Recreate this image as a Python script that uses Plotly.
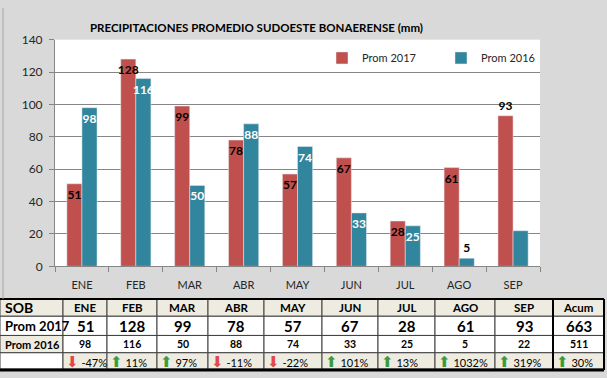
import plotly.graph_objects as go

months = ["ENE", "FEB", "MAR", "ABR", "MAY", "JUN", "JUL", "AGO", "SEP"]
prom_2017 = [51, 128, 99, 78, 57, 67, 28, 61, 93]
prom_2016 = [98, 116, 50, 88, 74, 33, 25, 5, 22]
acum_2017 = 663
acum_2016 = 511
pct_labels = ["-47%", "11%", "97%", "-11%", "-22%", "101%", "13%", "1032%", "319%", "30%"]
pct_up = [False, True, True, False, False, True, True, True, True, True]
table_corner = "SOB"
acum_label = "Acum"

# label display settings
lbl_2017 = [str(v) for v in prom_2017]
lbl_2016 = [str(v) for v in prom_2016[:-1]] + [""]
pos_2017 = ["inside"] * 8 + ["outside"]
pos_2016 = ["inside"] * 7 + ["outside", "inside"]
col_2016 = ["white"] * 7 + ["black", "white"]

RED = "#c0504d"
TEAL = "#31859c"
BG = "#d9d9d9"
BEIGE = "#eeece1"
FONT = "Lato"
W, H = 607, 378

def px(x):
    return x / W

def py(y):
    return 1 - y / H

fig = go.Figure()
fig.add_trace(go.Bar(
    x=months, y=prom_2017, name="Prom 2017", marker_color=RED,
    text=lbl_2017, textposition=pos_2017, insidetextanchor="end", textangle=0,
    textfont=dict(family=FONT, size=12, color="black", weight="bold"),
    cliponaxis=False,
))
fig.add_trace(go.Bar(
    x=months, y=prom_2016, name="Prom 2016", marker_color=TEAL,
    text=lbl_2016, textposition=pos_2016, insidetextanchor="end", textangle=0,
    textfont=dict(family=FONT, size=12, color=col_2016, weight="bold"),
    cliponaxis=False,
))

# ---- table under the chart (shapes for cells, annotations for texts) ----
col_edges = [0, 63, 107, 157, 208, 264, 322, 378, 435, 495, 553, 604]
row_edges = [303, 321, 341, 359, 376]
header = [table_corner] + months + [acum_label]
row1 = ["Prom 2017"] + [str(v) for v in prom_2017] + [str(acum_2017)]
row2 = ["Prom 2016"] + [str(v) for v in prom_2016] + [str(acum_2016)]
row3 = [""]
for lab, up in zip(pct_labels, pct_up):
    arrow = ("<span style='color:#3c9b3c;font-size:15px'>⬆</span>" if up
             else "<span style='color:#e0484c;font-size:15px'>⬇</span>")
    row3.append(f"{arrow} {lab}")
rows = [header, row1, row2, row3]

shapes = []
annotations = []
for r, row in enumerate(rows):
    y0, y1 = row_edges[r], row_edges[r + 1]
    for c, txt in enumerate(row):
        x0, x1 = col_edges[c], col_edges[c + 1]
        if r == 0:
            fill = BEIGE
        elif r == 3:
            fill = "white" if c == 0 else BEIGE
        elif r == 2 and c == 0:
            fill = BEIGE
        else:
            fill = "white"
        shapes.append(dict(type="rect", xref="paper", yref="paper",
                           x0=px(x0), x1=px(x1), y0=py(y0), y1=py(y1),
                           fillcolor=fill, line=dict(color="#404040", width=1),
                           layer="below"))
        if not txt:
            continue
        if c == 0:
            size = {0: 14, 1: 13, 2: 11}[r]
            ax, xa, t = x0 + 3, "left", f"<b>{txt}</b>"
        elif r == 3:
            size, ax, xa, t = 11, x0 + 1, "left", txt
        else:
            size = {0: 11.5, 1: 15, 2: 10.5}[r]
            ax, xa, t = (x0 + x1) / 2, "center", f"<b>{txt}</b>"
        annotations.append(dict(text=t, x=px(ax), y=py((y0 + y1) / 2),
                                xref="paper", yref="paper", xanchor=xa, yanchor="middle",
                                showarrow=False,
                                font=dict(family=FONT + ", DejaVu Sans", size=size, color="black")))

# heavier borders
shapes += [
    dict(type="line", xref="paper", yref="paper", x0=0, x1=px(604), y0=py(303), y1=py(303),
         line=dict(color="black", width=2)),
    dict(type="line", xref="paper", yref="paper", x0=0, x1=px(604), y0=py(377), y1=py(377),
         line=dict(color="black", width=3)),
    dict(type="line", xref="paper", yref="paper", x0=px(553), x1=px(553), y0=py(303), y1=py(377),
         line=dict(color="black", width=2)),
    dict(type="line", xref="paper", yref="paper", x0=px(604), x1=px(604), y0=py(303), y1=py(377),
         line=dict(color="black", width=2)),
    dict(type="line", xref="paper", yref="paper", x0=px(3), x1=px(3), y0=py(303), y1=1,
         line=dict(color="#a6a6a6", width=1)),
]

annotations.append(dict(text="<b>PRECIPITACIONES PROMEDIO SUDOESTE BONAERENSE (mm)</b>",
                        x=px(256), y=py(20), xref="paper", yref="paper",
                        xanchor="center", yanchor="middle", showarrow=False,
                        font=dict(family=FONT, size=11.5, color="black")))

fig.update_layout(
    width=W, height=H,
    margin=dict(l=0, r=0, t=0, b=0),
    paper_bgcolor=BG, plot_bgcolor="white",
    barmode="group", bargap=0.44, bargroupgap=0,
    uniformtext=dict(minsize=12, mode="show"),
    font=dict(family=FONT, size=12, color="#262626"),
    showlegend=True,
    legend=dict(orientation="h", x=px(322), y=py(52), xanchor="left", yanchor="middle",
                font=dict(family=FONT, size=11, color="#262626"),
                bgcolor="rgba(0,0,0,0)", entrywidth=74, itemwidth=30),
    xaxis=dict(domain=[px(55), px(540)], showgrid=False, showline=True, linecolor="#868686",
               ticks="outside", tickson="boundaries", ticklen=5, tickcolor="#868686",
               tickfont=dict(family=FONT, size=11, color="#262626"), ticklabelstandoff=8),
    yaxis=dict(domain=[py(269), py(33)], range=[0, 140], dtick=20,
               showgrid=True, gridcolor="#868686", gridwidth=1, zeroline=False,
               showline=True, linecolor="#868686", ticks="outside", ticklen=5,
               tickcolor="#868686", tickfont=dict(family=FONT, size=12, color="#262626"),
               ticklabelstandoff=4),
    annotations=annotations,
    shapes=shapes,
)

fig.write_html("out.html", config={"displayModeBar": False},
               post_script="document.body.style.margin='0';document.body.style.overflow='hidden';")
